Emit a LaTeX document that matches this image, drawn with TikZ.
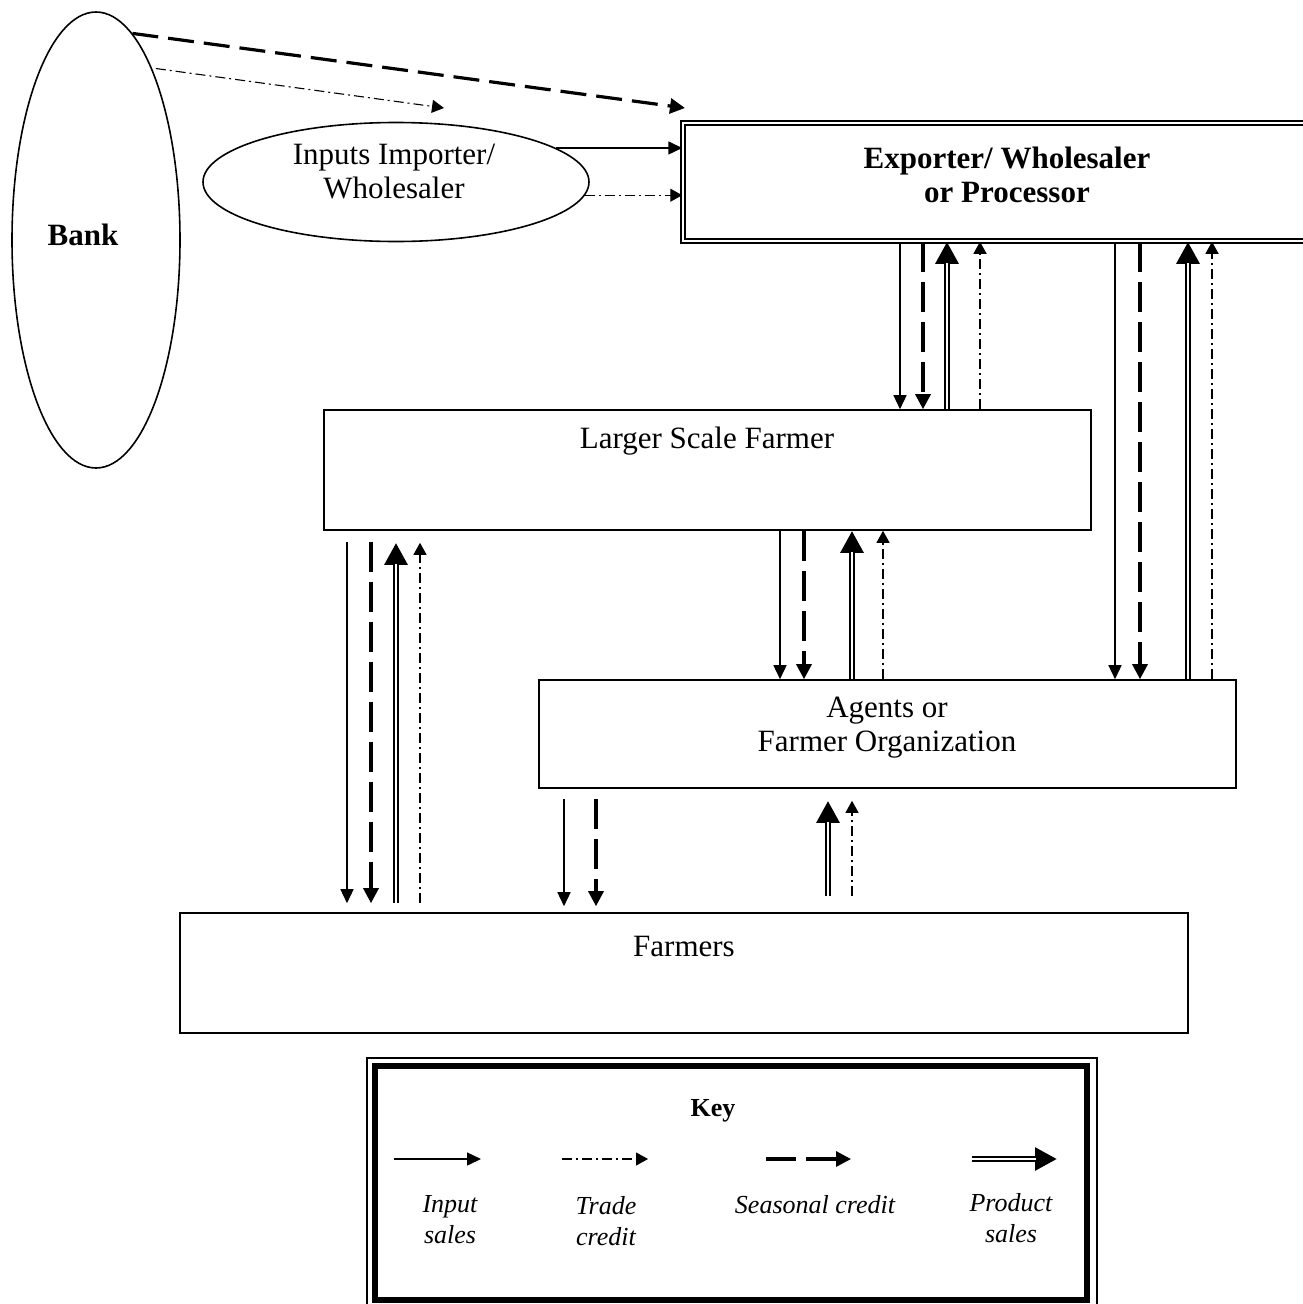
\documentclass[tikz,border=0pt]{standalone}
\usepackage{fontspec}
\setmainfont{Liberation Serif}
\usetikzlibrary{arrows.meta,shapes.geometric}

\tikzset{
  box/.style={draw, line width=1.6pt, rectangle, inner sep=0pt},
  txt/.style={font=\fontsize{31}{34}\selectfont, align=center, inner sep=0pt},
  keytxt/.style={font=\fontsize{26}{31}\selectfont\itshape, align=center, inner sep=0pt},
  insale/.style={line width=1.5pt, -{Triangle[length=14pt,width=13pt]}},
  trade/.style={line width=1.1pt, dash pattern=on 10pt off 4pt on 2pt off 4pt, -{Triangle[length=12pt,width=13pt]}},
  seas/.style={line width=3.2pt, dash pattern=on 30pt off 10pt, -{Triangle[length=15pt,width=15pt]}},
  prod/.style={line width=5.6pt, -{Triangle[length=22pt,width=22pt]}, postaction={draw=white, line width=2.4pt, -, shorten >=21pt}}
}

\begin{document}
\begin{tikzpicture}[x=1pt,y=-1pt]
\useasboundingbox (0,0) rectangle (1303,1304);
\node[draw, line width=1.6pt, ellipse, minimum width=168pt, minimum height=456pt, inner sep=0pt] (bank) at (96,240) {};
\node[txt, font=\fontsize{31}{34}\selectfont\bfseries] (banktxt) at (83,235) {Bank};
\node[draw, line width=1.6pt, ellipse, minimum width=386pt, minimum height=119pt, inner sep=0pt] (inp) at (396,182) {};
\node[txt] (inptxt) at (394,172) {Inputs Importer/\\Wholesaler};
\node[box, double, double distance=2.6pt, line width=1.5pt, minimum width=640pt, minimum height=118pt] (exp) at (1003,182) {};
\node[txt, font=\fontsize{31}{34}\selectfont\bfseries] (exptxt) at (1007,175) {Exporter/ Wholesaler\\or Processor};
\node[box, minimum width=767pt, minimum height=120pt] (lsf) at (707.5,470) {};
\node[txt] (lsftxt) at (707,441) {Larger Scale Farmer};
\node[box, minimum width=697pt, minimum height=108pt] (agt) at (887.5,734) {};
\node[txt] (agttxt) at (887,728) {Agents or\\Farmer Organization};
\node[box, minimum width=1008pt, minimum height=120pt] (farm) at (684,973) {};
\node[txt] (farmtxt) at (684,946) {Farmers};

% bank and importer
\coordinate (bankseas) at (685,108);
\coordinate (banktrade) at (444,108);
\draw[seas, dash pattern=on 26pt off 10pt] (bank.80) -- (bankseas);
\draw[trade, shorten <=4pt] (bank.72) -- (banktrade);
\draw[insale] (inp.12) -- (inp.12 -| exp.west);
\draw[trade] (inp.-4) -- (inp.-4 -| exp.west);

% exporter and larger scale farmer
\foreach \x/\s in {900/insale, 923/seas} \draw[\s] (exp.south -| \x,0) -- (lsf.north -| \x,0);
\foreach \x/\s in {947/prod, 980/trade} \draw[\s] (lsf.north -| \x,0) -- (exp.south -| \x,0);
% exporter and agents
\foreach \x/\s in {1115/insale, 1140/seas} \draw[\s] (exp.south -| \x,0) -- (agt.north -| \x,0);
\foreach \x/\s in {1188/prod, 1212/trade} \draw[\s] (agt.north -| \x,0) -- (exp.south -| \x,0);
% larger scale farmer and agents
\foreach \x/\s in {780/insale, 804/seas} \draw[\s] (lsf.south -| \x,0) -- (agt.north -| \x,0);
\foreach \x/\s in {852/prod, 883/trade} \draw[\s] (agt.north -| \x,0) -- (lsf.south -| \x,0);
% larger scale farmer and farmers
\foreach \x/\s in {347/insale, 371/seas} \draw[\s] ([yshift=-11pt]lsf.south -| \x,0) -- ([yshift=9pt]farm.north -| \x,0);
\foreach \x/\s in {396/prod, 420/trade} \draw[\s] ([yshift=9pt]farm.north -| \x,0) -- ([yshift=-12pt]lsf.south -| \x,0);
% agents and farmers
\foreach \x/\s in {564/insale, 596/seas} \draw[\s] ([yshift=-10pt]agt.south -| \x,0) -- ([yshift=6pt]farm.north -| \x,0);
\foreach \x/\s in {828/prod, 852/trade} \draw[\s] ([yshift=16pt]farm.north -| \x,0) -- ([yshift=-12pt]agt.south -| \x,0);

% key
\node[draw, line width=1.2pt, minimum width=730pt, minimum height=252pt] (keyout) at (732,1184) {};
\node[draw, line width=6pt, minimum width=712pt, minimum height=234pt] (key) at (731,1183) {};
\node[font=\fontsize{26}{31}\selectfont\bfseries, inner sep=0pt] (keyttl) at (713,1111) {Key};
\coordinate (ina) at (394,1159); \coordinate (inb) at (481,1159);
\coordinate (tra) at (562,1159); \coordinate (trb) at (648,1159);
\coordinate (sea) at (766,1159); \coordinate (seb) at (851,1159);
\coordinate (pra) at (972,1159); \coordinate (prb) at (1057,1159);
\draw[insale] (ina) -- (inb);
\draw[trade] (tra) -- (trb);
\draw[seas] (sea) -- (seb);
\draw[prod] (pra) -- (prb);
\node[keytxt] (inlab) at (450,1220) {Input\\sales};
\node[keytxt] (trlab) at (606,1221) {Trade\\credit};
\node[keytxt] (selab) at (815,1205) {Seasonal credit};
\node[keytxt] (prlab) at (1011,1218) {Product\\sales};
\end{tikzpicture}
\end{document}
